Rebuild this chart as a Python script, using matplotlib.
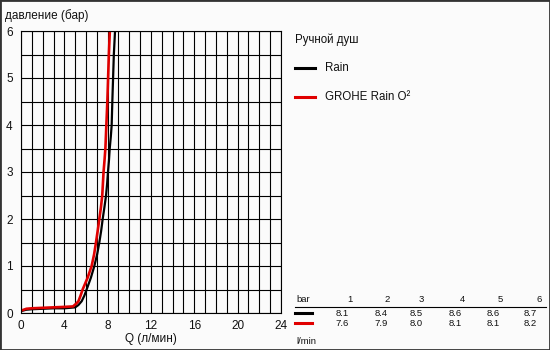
import matplotlib
matplotlib.use("Agg")
import matplotlib.pyplot as plt
from matplotlib.lines import Line2D
from matplotlib.patches import Rectangle

plt.rcParams['font.family'] = ['Liberation Sans', 'DejaVu Sans']

# Flow curves: Q (l/min) against pressure (bar)
rain_q = [0.0, 0.5, 1.0, 2.0, 3.0, 4.0, 5.0, 5.3, 5.6, 5.85, 6.06, 6.45, 6.77,
          7.03, 7.23, 7.40, 7.54, 7.70, 7.85, 7.95, 8.03, 8.12, 8.19, 8.29,
          8.37, 8.43, 8.50, 8.57, 8.68]
rain_p = [0.04, 0.07, 0.08, 0.09, 0.10, 0.10, 0.12, 0.17, 0.25, 0.37, 0.50, 0.75,
          1.00, 1.25, 1.50, 1.75, 2.00, 2.25, 2.50, 2.75, 3.00, 3.25, 3.50, 3.75,
          4.00, 4.50, 5.00, 5.50, 6.00]

o2_q = [0.0, 0.5, 1.0, 2.0, 3.0, 4.0, 4.8, 5.1, 5.3, 5.5, 5.69, 6.15, 6.52,
        6.75, 6.92, 7.08, 7.23, 7.38, 7.50, 7.56, 7.62, 7.71, 7.79, 7.88,
        7.97, 8.04, 8.11, 8.20]
o2_p = [0.05, 0.09, 0.10, 0.11, 0.12, 0.13, 0.14, 0.20, 0.25, 0.37, 0.50, 0.75,
        1.00, 1.25, 1.50, 1.75, 2.00, 2.25, 2.50, 2.75, 3.00, 3.25, 3.50, 4.00,
        4.50, 5.00, 5.50, 6.00]

x_ticks = [0, 4, 8, 12, 16, 20, 24]
y_ticks = [0, 1, 2, 3, 4, 5, 6]

legend_title = "Ручной душ"
series_names = ["Rain", "GROHE Rain O²"]
series_colors = ["#000000", "#e00000"]

table_bar = [1, 2, 3, 4, 5, 6]
table_rain = [8.1, 8.4, 8.5, 8.6, 8.6, 8.7]
table_o2 = [7.6, 7.9, 8.0, 8.1, 8.1, 8.2]

W, H = 550, 350
BG = "#fbfbfb"
fig = plt.figure(figsize=(W / 100, H / 100), dpi=100)
fig.patch.set_facecolor(BG)


def fx(x):
    return x / W


def fy(y):
    return 1 - y / H


ax = fig.add_axes([fx(21), fy(313), 260 / W, 282 / H])
ax.set_facecolor(BG)
ax.set_xlim(0, 24)
ax.set_ylim(0, 6)
ax.set_xticks(x_ticks)
ax.set_yticks(y_ticks)
ax.set_xticks([i for i in range(25)], minor=True)
ax.set_yticks([i * 0.5 for i in range(13)], minor=True)
ax.grid(True, which='both', color='black', linewidth=0.8)
ax.set_axisbelow(True)
ax.tick_params(which='both', length=0, labelsize=8.5, colors='#111111')
ax.tick_params(axis='x', pad=5)
ax.tick_params(axis='y', pad=6)
for s in ax.spines.values():
    s.set_color('black')
    s.set_linewidth(0.8)

ax.plot(rain_q, rain_p, color=series_colors[0], linewidth=1.6, solid_capstyle='butt')
ax.plot(o2_q, o2_p, color=series_colors[1], linewidth=1.9, solid_capstyle='butt')

fig.text(fx(5), fy(16), "давление (бар)", fontsize=8.5, va='center', ha='left', color='#111111')
fig.text(fx(151), fy(339), "Q (л/мин)", fontsize=8.5, va='center', ha='center', color='#111111')

# Legend block
fig.text(fx(295), fy(40), legend_title, fontsize=8.3, va='center', ha='left', color='#111111')
for i, (name, col) in enumerate(zip(series_names, series_colors)):
    yy = 68 + i * 29
    fig.add_artist(Line2D([fx(295), fx(315)], [fy(yy), fy(yy)], color=col,
                          linewidth=2.2, transform=fig.transFigure))
    fig.text(fx(325), fy(yy), name, fontsize=8.3, va='center', ha='left', color='#111111')

# Pressure / flow table
head_right = [353, 390, 424, 465, 503, 542]
val_right = [349, 388, 423, 462, 500, 537]
fig.text(fx(296), fy(300), "bar", fontsize=6.8, va='center', ha='left', color='#111111')
for xr, b in zip(head_right, table_bar):
    fig.text(fx(xr), fy(300), str(b), fontsize=6.8, va='center', ha='right', color='#111111')
fig.add_artist(Line2D([fx(295), fx(546)], [fy(307), fy(307)], color='black',
                      linewidth=0.8, transform=fig.transFigure))
for row, (vals, col) in enumerate([(table_rain, series_colors[0]), (table_o2, series_colors[1])]):
    yy = 313.5 + row * 10
    fig.add_artist(Line2D([fx(295), fx(312)], [fy(yy - 1), fy(yy - 1)], color=col,
                          linewidth=2.2, transform=fig.transFigure))
    for xr, v in zip(val_right, vals):
        fig.text(fx(xr), fy(yy), f"{v:.1f}", fontsize=6.8, va='center', ha='right', color='#111111')
fig.text(fx(296), fy(341.5), "l/min", fontsize=6.8, va='center', ha='left', color='#111111')

fig.add_artist(Rectangle((0, 0), 1, 1, transform=fig.transFigure, fill=False,
                         edgecolor='#333333', linewidth=2.0))

fig.savefig("out.png", dpi=100, facecolor=fig.get_facecolor())
